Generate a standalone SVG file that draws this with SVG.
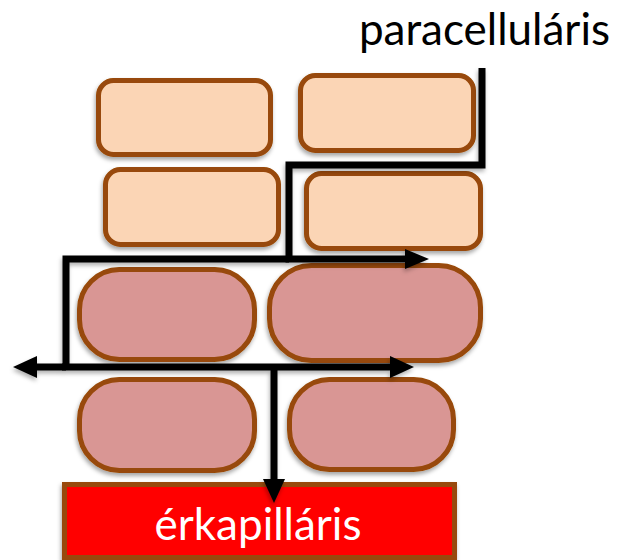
<svg xmlns="http://www.w3.org/2000/svg" width="619" height="560" viewBox="0 0 619 560">
  <defs>
    <filter id="shadow" x="-10%" y="-10%" width="120%" height="130%">
      <feDropShadow dx="-1" dy="3" stdDeviation="2" flood-color="#000" flood-opacity="0.35"/>
    </filter>
    <!-- straight strokes have a flat bounding box, so this one works in user space -->
    <filter id="lineShadow" filterUnits="userSpaceOnUse" x="0" y="0" width="619" height="560">
      <feDropShadow dx="-1" dy="3" stdDeviation="2" flood-color="#000" flood-opacity="0.3"/>
    </filter>
    <marker id="head" viewBox="0 0 24 22" refX="0" refY="11" markerWidth="24" markerHeight="22" markerUnits="userSpaceOnUse" orient="auto">
      <path d="M0,0 L24,11 L0,22 Z" fill="#000"/>
    </marker>
    <marker id="headSmall" viewBox="0 0 24 20" refX="0" refY="10" markerWidth="24" markerHeight="20" markerUnits="userSpaceOnUse" orient="auto">
      <path d="M0,0 L24,10 L0,20 Z" fill="#000"/>
    </marker>
  </defs>
  <style>
    .label { font-family: Lato, "Open Sans", "Liberation Sans", sans-serif; font-size: 44px; }
    .upper { fill: #FBD5B5; stroke: #984807; stroke-width: 5; filter: url(#shadow); }
    .lower { fill: #D99694; stroke: #984807; stroke-width: 5; filter: url(#shadow); }
    .vessel { fill: #FF0000; stroke: #984807; stroke-width: 5; filter: url(#shadow); }
    .route { fill: none; stroke: #000; stroke-width: 7; }
  </style>

  <rect width="619" height="560" fill="#fff"/>

  <!-- upper cell layer -->
  <g id="cell-a"><rect class="upper" x="98.5" y="80.5" width="172" height="74" rx="15"/></g>
  <g id="cell-b"><rect class="upper" x="300.5" y="75.5" width="173" height="75" rx="15"/></g>
  <g id="cell-c"><rect class="upper" x="105.5" y="169.5" width="173" height="75" rx="15"/></g>
  <g id="cell-d"><rect class="upper" x="306.5" y="173.5" width="174" height="75" rx="15"/></g>

  <!-- lower cell layer -->
  <g id="cell-e"><rect class="lower" x="79.5" y="269.5" width="175" height="90" rx="40"/></g>
  <g id="cell-f"><rect class="lower" x="269.5" y="265.5" width="211" height="95" rx="42"/></g>
  <g id="cell-g"><rect class="lower" x="79.5" y="379.5" width="175" height="91" rx="40"/></g>
  <g id="cell-h"><rect class="lower" x="289.5" y="379.5" width="164" height="90" rx="40"/></g>

  <!-- capillary -->
  <g id="capillary">
    <rect class="vessel" x="64.5" y="484.5" width="390" height="73"/>
    <text class="label" x="258" y="540" fill="#fff" text-anchor="middle">érkapilláris</text>
  </g>

  <!-- route title -->
  <g id="title">
    <text class="label" x="610" y="45" fill="#000" text-anchor="end">paracelluláris</text>
  </g>

  <!-- paracellular route -->
  <g id="connectors" filter="url(#lineShadow)">
    <path class="route" d="M482,68 V165 H289 V259 H405" marker-end="url(#headSmall)"/>
    <path class="route" d="M289,259 H66 V367"/>
    <path class="route" d="M66,367 H37" marker-end="url(#head)"/>
    <path class="route" d="M62,367 H390" marker-end="url(#head)"/>
    <path class="route" d="M274,367 V479" marker-end="url(#head)"/>
  </g>
</svg>
